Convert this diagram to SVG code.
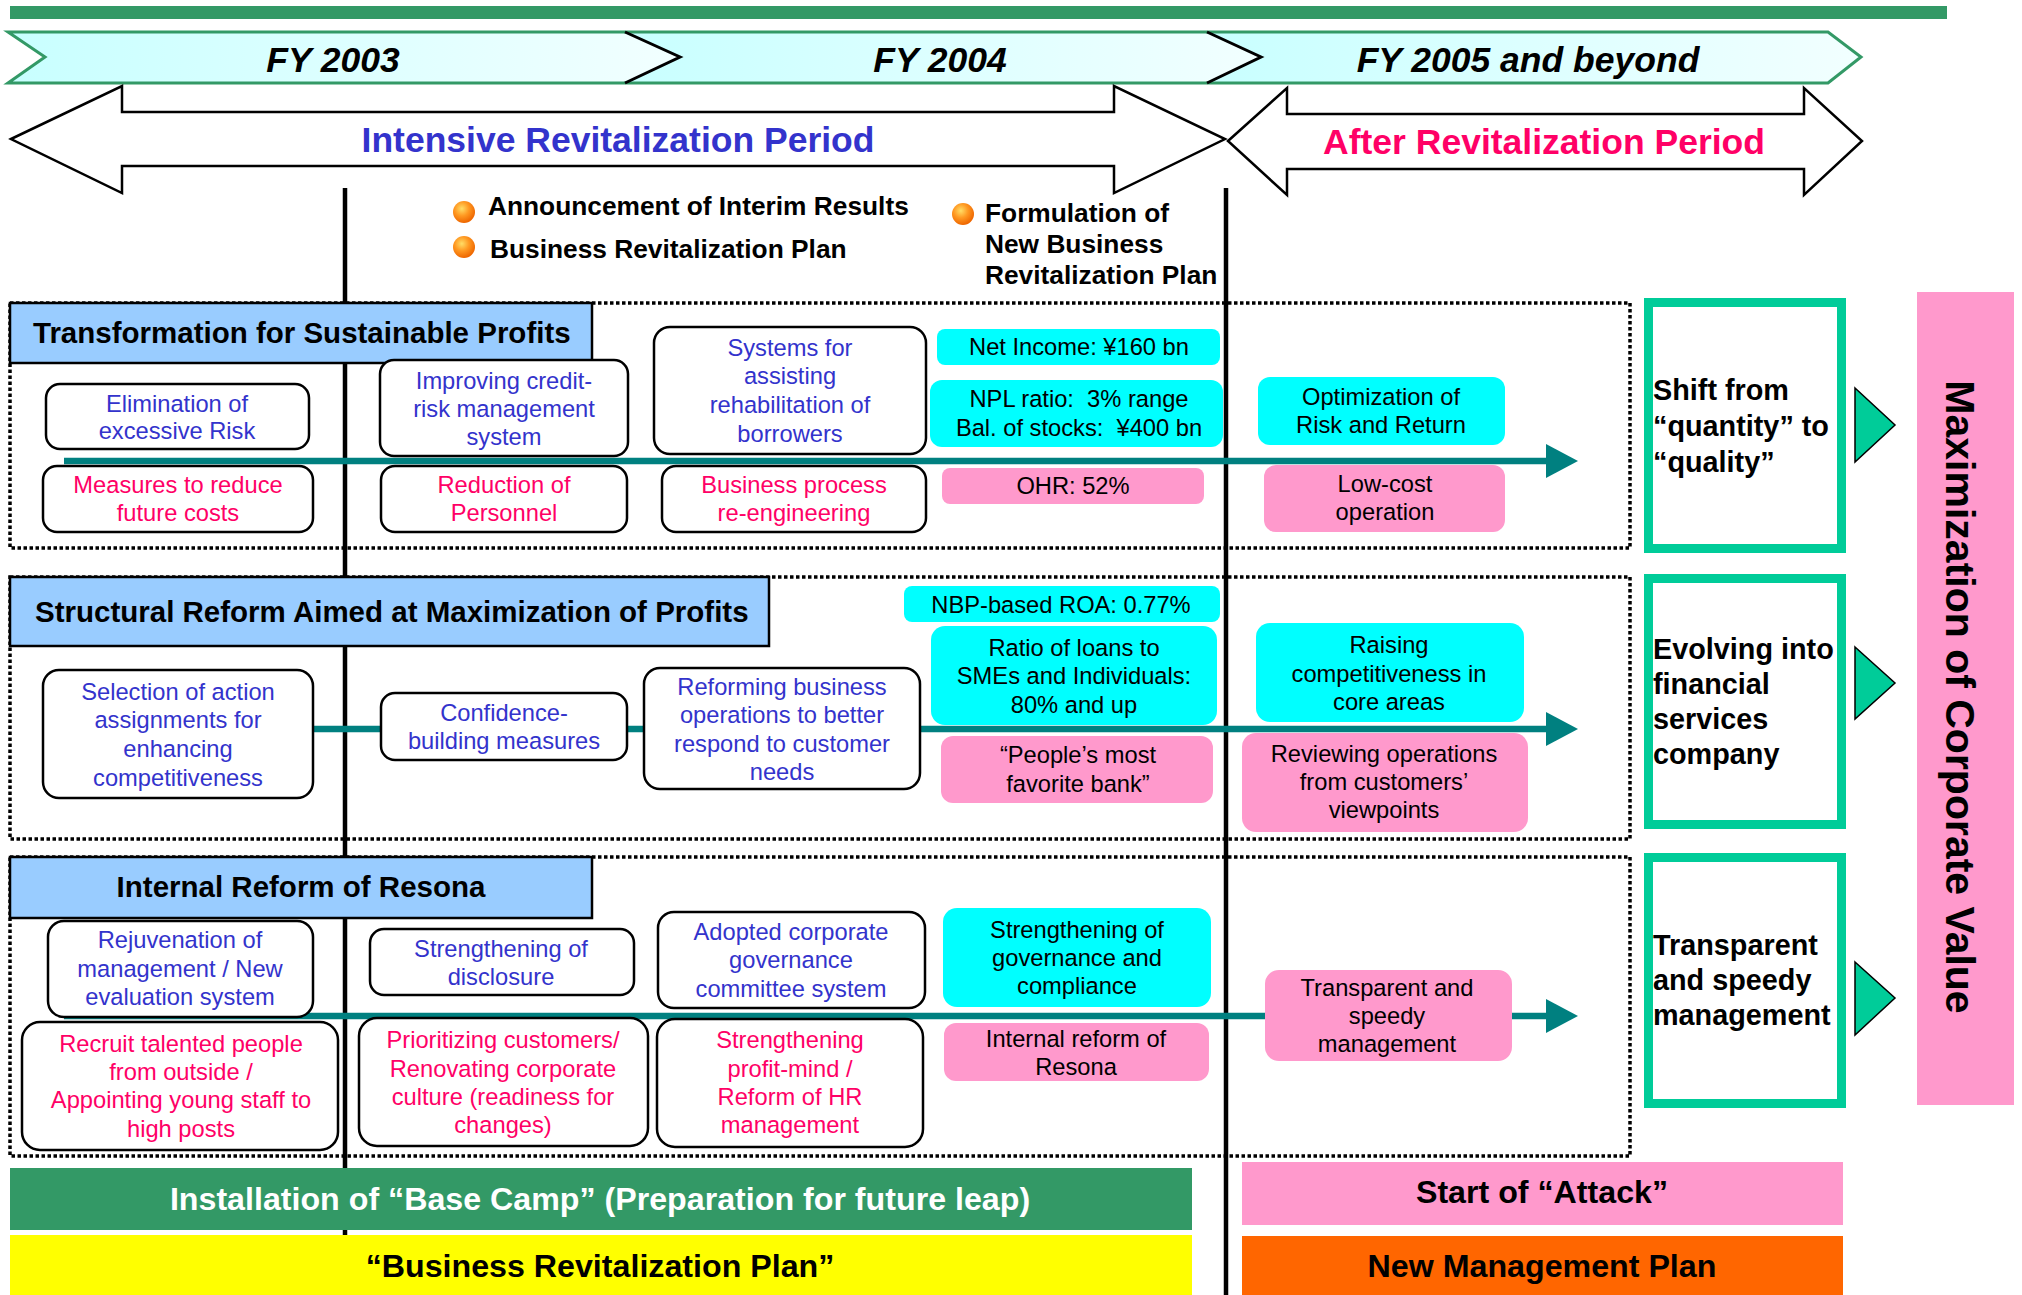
<svg xmlns="http://www.w3.org/2000/svg" width="2022" height="1295" viewBox="0 0 2022 1295">
<defs>
<style>
text{font-family:"Liberation Sans",Arial,sans-serif}
.t{font-size:23.7px;text-anchor:middle}
.bl{fill:#3333cc}
.rd{fill:#ff0066}
.k{fill:#000}
.bx{fill:#fff;stroke:#000;stroke-width:2.5}
.cy{fill:#00ffff}
.pk{fill:#ff99cc}
.dot{fill:none;stroke:#000;stroke-width:3.5;stroke-dasharray:3.5 2.5}
.hdr{fill:#99ccff;stroke:#000;stroke-width:2.5}
.ht{font-size:29.5px;font-weight:bold;fill:#000}
.frame{fill:#fff;stroke:#00cc99;stroke-width:9}
.ft{font-size:28.8px;font-weight:bold;fill:#000}
.tri{fill:#00cc99;stroke:#000;stroke-width:1.5}
.conn{stroke:#008080;stroke-width:6.5;fill:none}
.vline{stroke:#000;stroke-width:4.5}
.arr{fill:#fff;stroke:#000;stroke-width:2.5}
.fy{font-size:35.5px;font-weight:bold;font-style:italic;text-anchor:middle;fill:#000}
.per{font-size:35.5px;font-weight:bold;text-anchor:middle}
.bul{font-size:26.3px;font-weight:bold;fill:#000}
.bt{font-size:32.2px;font-weight:bold;text-anchor:middle}
</style>
<linearGradient id="gfy" x1="0" y1="0" x2="1" y2="0">
<stop offset="0" stop-color="#c8ffff"/>
<stop offset="1" stop-color="#f2ffff"/>
</linearGradient>
<radialGradient id="gball" cx="0.4" cy="0.35" r="0.65">
<stop offset="0" stop-color="#ffdd66"/>
<stop offset="0.5" stop-color="#ff9922"/>
<stop offset="1" stop-color="#ee6600"/>
</radialGradient>
<marker id="ah" markerUnits="userSpaceOnUse" markerWidth="32" markerHeight="34" refX="0" refY="17" orient="auto">
<path d="M0,0 L32,17 L0,34 Z" fill="#008080"/>
</marker>
</defs>

<!-- top bar and timeline -->
<g id="topbar"><rect x="10" y="6" width="1937" height="13" fill="#339966"/></g>
<g id="fy-banner">
<polygon points="8,32 625,32 680,57 625,83 8,83 45,57" fill="url(#gfy)"/>
<polygon points="625,32 1207,32 1261,57 1207,83 625,83 680,57" fill="url(#gfy)"/>
<polygon points="1207,32 1828,32 1861,57 1828,83 1207,83 1261,57" fill="url(#gfy)"/>
<polyline points="625,32 1828,32 1861,57 1828,83 8,83 45,57 8,32 625,32" fill="none" stroke="#339966" stroke-width="3"/>
<polyline points="625,32 680,57 625,83" fill="none" stroke="#000" stroke-width="3"/>
<polyline points="1207,32 1261,57 1207,83" fill="none" stroke="#000" stroke-width="3"/>
<text class="fy" x="333" y="72">FY 2003</text>
<text class="fy" x="940" y="72">FY 2004</text>
<text class="fy" x="1528" y="72">FY 2005 and beyond</text>
</g>

<g id="intensive-period">
<polygon class="arr" points="11,139 122,86 122,112 1114,112 1114,86 1225,139 1114,193 1114,166 122,166 122,193"/>
<text class="per" x="618" y="152" fill="#3333cc">Intensive Revitalization Period</text>
</g>
<g id="after-period">
<polygon class="arr" points="1228,141 1287,88 1287,114 1804,114 1804,88 1862,141 1804,195 1804,169 1287,169 1287,195"/>
<text class="per" x="1544" y="154" fill="#ff0066">After Revitalization Period</text>
</g>

<g id="milestones">
<circle cx="464" cy="212" r="11" fill="url(#gball)"/>
<circle cx="464" cy="247" r="11" fill="url(#gball)"/>
<circle cx="963" cy="214" r="11" fill="url(#gball)"/>
<text class="bul" x="488" y="215">Announcement of Interim Results</text>
<text class="bul" x="490" y="258">Business Revitalization Plan</text>
<text class="bul" x="985" y="222">Formulation of</text>
<text class="bul" x="985" y="253">New Business</text>
<text class="bul" x="985" y="284">Revitalization Plan</text>
</g>

<!-- section frames -->
<g id="sections">
<rect class="dot" x="10" y="303" width="1620" height="245"/>
<rect class="dot" x="10" y="577" width="1620" height="262"/>
<rect class="dot" x="10" y="857" width="1620" height="299"/>
</g>

<g id="vlines">
<line class="vline" x1="345" y1="188" x2="345" y2="1240"/>
<line class="vline" x1="1226" y1="188" x2="1226" y2="1295"/>
</g>

<g id="headers">
<g id="hdr1"><rect class="hdr" x="10" y="303" width="582" height="60"/><text class="ht" x="33" y="343">Transformation for Sustainable Profits</text></g>
<g id="hdr2"><rect class="hdr" x="10" y="577" width="759" height="69"/><text class="ht" x="35" y="622">Structural Reform Aimed at Maximization of Profits</text></g>
<g id="hdr3"><rect class="hdr" x="10" y="857" width="582" height="61"/><text class="ht" x="301" y="897" text-anchor="middle">Internal Reform of Resona</text></g>
</g>

<!-- connectors -->
<g id="connectors">
<line class="conn" x1="64" y1="461" x2="1546" y2="461" marker-end="url(#ah)"/>
<line class="conn" x1="64" y1="729" x2="1546" y2="729" marker-end="url(#ah)"/>
<line class="conn" x1="64" y1="1016" x2="1546" y2="1016" marker-end="url(#ah)"/>
</g>

<!-- section 1 nodes -->
<g id="n-elimination"><rect class="bx" x="46" y="384" width="263" height="65" rx="14"/><text class="t bl" x="177"><tspan x="177" y="412">Elimination of</tspan><tspan x="177" y="439">excessive Risk</tspan></text></g>
<g id="n-improving"><rect class="bx" x="380" y="360" width="248" height="96" rx="14"/><text class="t bl"><tspan x="504" y="389">Improving credit-</tspan><tspan x="504" y="417">risk management</tspan><tspan x="504" y="445">system</tspan></text></g>
<g id="n-systems"><rect class="bx" x="654" y="327" width="272" height="127" rx="16"/><text class="t bl"><tspan x="790" y="356">Systems for</tspan><tspan x="790" y="384">assisting</tspan><tspan x="790" y="413">rehabilitation of</tspan><tspan x="790" y="442">borrowers</tspan></text></g>
<g id="n-measures"><rect class="bx" x="43" y="466" width="270" height="66" rx="14"/><text class="t rd"><tspan x="178" y="493">Measures to reduce</tspan><tspan x="178" y="521">future costs</tspan></text></g>
<g id="n-reduction"><rect class="bx" x="381" y="466" width="246" height="66" rx="14"/><text class="t rd"><tspan x="504" y="493">Reduction of</tspan><tspan x="504" y="521">Personnel</tspan></text></g>
<g id="n-bpr"><rect class="bx" x="662" y="466" width="264" height="66" rx="14"/><text class="t rd"><tspan x="794" y="493">Business process</tspan><tspan x="794" y="521">re-engineering</tspan></text></g>
<g id="n-netincome"><rect class="cy" x="937" y="329" width="283" height="36" rx="8"/><text class="t k" x="1079" y="355">Net Income: ¥160 bn</text></g>
<g id="n-npl"><rect class="cy" x="930" y="380" width="293" height="67" rx="12"/><text class="t k" xml:space="preserve"><tspan x="1079" y="407">NPL ratio:  3% range</tspan><tspan x="1079" y="436">Bal. of stocks:  ¥400 bn</tspan></text></g>
<g id="n-ohr"><rect class="pk" x="942" y="468" width="262" height="36" rx="8"/><text class="t k" x="1073" y="494">OHR: 52%</text></g>
<g id="n-optimization"><rect class="cy" x="1258" y="377" width="247" height="68" rx="12"/><text class="t k"><tspan x="1381" y="405">Optimization of</tspan><tspan x="1381" y="433">Risk and Return</tspan></text></g>
<g id="n-lowcost"><rect class="pk" x="1264" y="465" width="241" height="67" rx="12"/><text class="t k"><tspan x="1385" y="492">Low-cost</tspan><tspan x="1385" y="520">operation</tspan></text></g>

<!-- section 2 nodes -->
<g id="n-selection"><rect class="bx" x="43" y="670" width="270" height="128" rx="16"/><text class="t bl"><tspan x="178" y="700">Selection of action</tspan><tspan x="178" y="728">assignments for</tspan><tspan x="178" y="757">enhancing</tspan><tspan x="178" y="786">competitiveness</tspan></text></g>
<g id="n-confidence"><rect class="bx" x="381" y="693" width="246" height="67" rx="14"/><text class="t bl"><tspan x="504" y="721">Confidence-</tspan><tspan x="504" y="749">building measures</tspan></text></g>
<g id="n-reforming"><rect class="bx" x="644" y="668" width="276" height="121" rx="16"/><text class="t bl"><tspan x="782" y="695">Reforming business</tspan><tspan x="782" y="723">operations to better</tspan><tspan x="782" y="752">respond to customer</tspan><tspan x="782" y="780">needs</tspan></text></g>
<g id="n-nbp"><rect class="cy" x="904" y="586" width="316" height="36" rx="8"/><text class="t k" x="1061" y="613">NBP-based ROA: 0.77%</text></g>
<g id="n-ratio"><rect class="cy" x="931" y="626" width="286" height="99" rx="14"/><text class="t k"><tspan x="1074" y="656">Ratio of loans to</tspan><tspan x="1074" y="684">SMEs and Individuals:</tspan><tspan x="1074" y="713">80% and up</tspan></text></g>
<g id="n-people"><rect class="pk" x="941" y="736" width="272" height="67" rx="12"/><text class="t k"><tspan x="1078" y="763">“People’s most</tspan><tspan x="1078" y="792">favorite bank”</tspan></text></g>
<g id="n-raising"><rect class="cy" x="1256" y="623" width="268" height="99" rx="14"/><text class="t k"><tspan x="1389" y="653">Raising</tspan><tspan x="1389" y="682">competitiveness in</tspan><tspan x="1389" y="710">core areas</tspan></text></g>
<g id="n-reviewing"><rect class="pk" x="1242" y="733" width="286" height="99" rx="14"/><text class="t k"><tspan x="1384" y="762">Reviewing operations</tspan><tspan x="1384" y="790">from customers’</tspan><tspan x="1384" y="818">viewpoints</tspan></text></g>

<!-- section 3 nodes -->
<g id="n-rejuvenation"><rect class="bx" x="48" y="921" width="265" height="96" rx="16"/><text class="t bl"><tspan x="180" y="948">Rejuvenation of</tspan><tspan x="180" y="977">management / New</tspan><tspan x="180" y="1005">evaluation system</tspan></text></g>
<g id="n-disclosure"><rect class="bx" x="370" y="929" width="264" height="66" rx="14"/><text class="t bl"><tspan x="501" y="957">Strengthening of</tspan><tspan x="501" y="985">disclosure</tspan></text></g>
<g id="n-adopted"><rect class="bx" x="658" y="912" width="267" height="96" rx="16"/><text class="t bl"><tspan x="791" y="940">Adopted corporate</tspan><tspan x="791" y="968">governance</tspan><tspan x="791" y="997">committee system</tspan></text></g>
<g id="n-recruit"><rect class="bx" x="22" y="1022" width="316" height="128" rx="18"/><text class="t rd"><tspan x="181" y="1052">Recruit talented people</tspan><tspan x="181" y="1080">from outside /</tspan><tspan x="181" y="1108">Appointing young staff to</tspan><tspan x="181" y="1137">high posts</tspan></text></g>
<g id="n-prioritizing"><rect class="bx" x="359" y="1018" width="289" height="128" rx="18"/><text class="t rd"><tspan x="503" y="1048">Prioritizing customers/</tspan><tspan x="503" y="1077">Renovating corporate</tspan><tspan x="503" y="1105">culture (readiness for</tspan><tspan x="503" y="1133">changes)</tspan></text></g>
<g id="n-profitmind"><rect class="bx" x="657" y="1019" width="266" height="128" rx="18"/><text class="t rd"><tspan x="790" y="1048">Strengthening</tspan><tspan x="790" y="1077">profit-mind /</tspan><tspan x="790" y="1105">Reform of HR</tspan><tspan x="790" y="1133">management</tspan></text></g>
<g id="n-governance"><rect class="cy" x="943" y="908" width="268" height="99" rx="14"/><text class="t k"><tspan x="1077" y="938">Strengthening of</tspan><tspan x="1077" y="966">governance and</tspan><tspan x="1077" y="994">compliance</tspan></text></g>
<g id="n-internal"><rect class="pk" x="944" y="1023" width="265" height="58" rx="12"/><text class="t k"><tspan x="1076" y="1047">Internal reform of</tspan><tspan x="1076" y="1075">Resona</tspan></text></g>
<g id="n-transparent"><rect class="pk" x="1265" y="970" width="247" height="91" rx="14"/><text class="t k"><tspan x="1387" y="996">Transparent and</tspan><tspan x="1387" y="1024">speedy</tspan><tspan x="1387" y="1052">management</tspan></text></g>

<!-- outcome frames -->
<g id="o-quality"><rect class="frame" x="1648.5" y="302.5" width="193" height="246"/><text class="ft"><tspan x="1653" y="400">Shift from</tspan><tspan x="1653" y="436">“quantity” to</tspan><tspan x="1653" y="472">“quality”</tspan></text><polygon class="tri" points="1855,388 1895,425 1855,462"/></g>
<g id="o-financial"><rect class="frame" x="1648.5" y="578.5" width="193" height="246"/><text class="ft"><tspan x="1653" y="659">Evolving into</tspan><tspan x="1653" y="694">financial</tspan><tspan x="1653" y="729">services</tspan><tspan x="1653" y="764">company</tspan></text><polygon class="tri" points="1855,647 1895,683 1855,719"/></g>
<g id="o-transparent"><rect class="frame" x="1648.5" y="857.5" width="193" height="246"/><text class="ft"><tspan x="1653" y="955">Transparent</tspan><tspan x="1653" y="990">and speedy</tspan><tspan x="1653" y="1025">management</tspan></text><polygon class="tri" points="1855,962 1895,998 1855,1035"/></g>

<g id="maximization"><rect x="1917" y="292" width="97" height="813" fill="#ff99cc"/><text transform="translate(1946,697) rotate(90)" font-size="41" font-weight="bold" text-anchor="middle" fill="#000">Maximization of Corporate Value</text></g>

<!-- bottom bars -->
<g id="basecamp"><rect x="10" y="1168" width="1182" height="62" fill="#339966"/><text class="bt" x="600" y="1210" fill="#fff">Installation of “Base Camp” (Preparation for future leap)</text></g>
<g id="brp"><rect x="10" y="1235" width="1182" height="60" fill="#ffff00"/><text class="bt" x="600" y="1277" fill="#000">“Business Revitalization Plan”</text></g>
<g id="attack"><rect x="1242" y="1162" width="601" height="63" fill="#ff99cc"/><text class="bt" x="1542" y="1203" fill="#000">Start of “Attack”</text></g>
<g id="nmp"><rect x="1242" y="1236" width="601" height="59" fill="#ff6600"/><text class="bt" x="1542" y="1277" fill="#000">New Management Plan</text></g>
</svg>
